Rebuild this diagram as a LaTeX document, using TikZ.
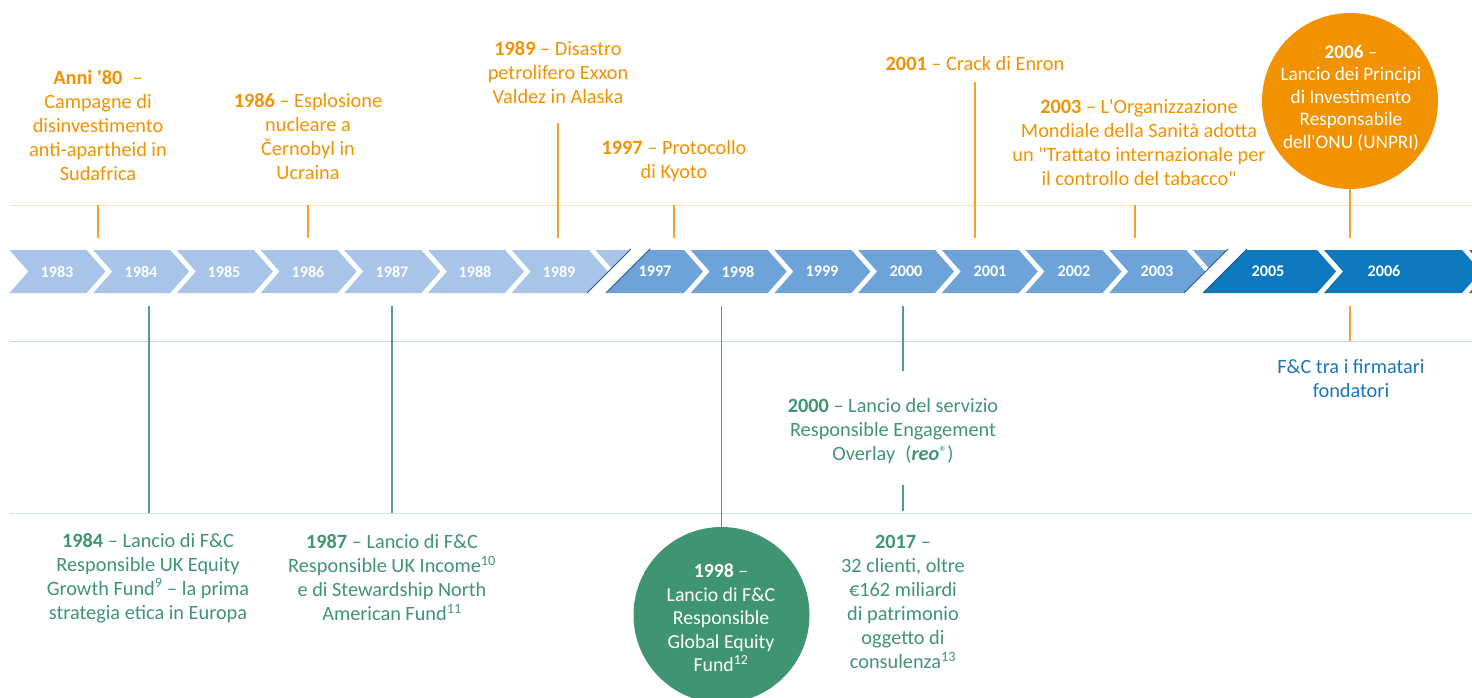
\documentclass[tikz,border=0pt]{standalone}
\usepackage{fontspec}
\newfontfamily\carl{Carlito}
\usetikzlibrary{calc}
\definecolor{chevA}{HTML}{A8C4E8}
\definecolor{chevB}{HTML}{6DA3D8}
\definecolor{chevC}{HTML}{0D78BE}
\definecolor{breakC}{HTML}{1D5A8A}
\definecolor{orangeC}{HTML}{F39200}
\definecolor{orangeL}{HTML}{FBE2C2}
\definecolor{blueT}{HTML}{1A76BC}
\definecolor{blueL}{HTML}{C6D6EE}
\definecolor{greenC}{HTML}{3F9571}
\definecolor{greenL}{HTML}{CFE4DA}
\newcommand{\chevpath}[2]{(#1,250) -- ++(#2,0) -- ++(19,21.5) -- ++(-19,21.5) -- ++(-#2,0) -- ++(19,-21.5) -- cycle}
\newcommand{\regmark}{\raisebox{0.3ex}{\fontsize{16}{16}\selectfont ®}}
\tikzset{
  otext/.style={text=orangeC, font=\carl\fontsize{20.3}{24}\selectfont, align=center, inner sep=0pt},
  gtext/.style={text=greenC, font=\carl\fontsize{20.3}{24}\selectfont, align=center, inner sep=0pt},
  btext/.style={text=blueT, font=\carl\fontsize{20.3}{24}\selectfont, align=center, inner sep=0pt},
  ctext/.style={text=white, font=\carl\fontsize{19.2}{22.5}\selectfont, align=center, inner sep=0pt},
  yr/.style={text=white, font=\carl\bfseries\fontsize{16.2}{18}\selectfont, inner sep=0pt},
  oconn/.style={draw=orangeC!85!white, line width=1.3pt},
  gconn/.style={draw=greenC!90!white, line width=1.3pt},
  guide/.style={line width=1pt},
  brk/.style={draw=breakC, line width=0.9pt},
  bubble/.style={circle, minimum size=#1, inner sep=0pt}
}
\begin{document}
\begin{tikzpicture}[x=1pt, y=-1pt]
\useasboundingbox (0,0) rectangle (1472,697);
% guide lines
\draw[guide, orangeL] (10,205) -- (1472,205);
\draw[guide, blueL] (10,341) -- (1472,341);
\draw[guide, greenL] (10,513) -- (1472,513);
% circles
\node[bubble=176pt, fill=orangeC] (c2006) at (1350,101) {};
\node[bubble=176pt, fill=greenC] (c1998) at (721.5,615) {};
% chevrons left segment
\begin{scope}
\clip (0,240) -- (640,240) -- (580,300) -- (0,300) -- cycle;
\foreach \k in {0,...,7} {
  \pgfmathsetmacro{\xx}{9.5+\k*83.7}
  \fill[chevA] \chevpath{\xx}{77};
}
\end{scope}
\begin{scope}
\clip (659,240) -- (1237,240) -- (1177,300) -- (599,300) -- cycle;
\foreach \k in {-1,...,7} {
  \pgfmathsetmacro{\xx}{607+\k*83.7}
  \fill[chevB] \chevpath{\xx}{77};
}
\end{scope}
\begin{scope}
\clip (1256,240) -- (1480,240) -- (1480,300) -- (1196,300) -- cycle;
\fill[chevC] \chevpath{1190}{127};
\fill[chevC] \chevpath{1324}{138};
\fill[chevC] \chevpath{1469}{138};
\end{scope}
\coordinate (b1a) at (631,249); \coordinate (b1b) at (587,293);
\coordinate (b2a) at (650,249); \coordinate (b2b) at (606,293);
\coordinate (b3a) at (1228,249); \coordinate (b3b) at (1184,293);
\coordinate (b4a) at (1247,249); \coordinate (b4b) at (1203,293);
\draw[brk] (b1a) -- (b1b);
\draw[brk] (b2a) -- (b2b);
\draw[brk] (b3a) -- (b3b);
\draw[brk] (b4a) -- (b4b);
% year labels
\foreach \yname/\yx in {1983/57,1984/141,1985/224,1986/308,1987/392,1988/475,1989/559,1997/655,1998/738,1999/822,2000/906,2001/990,2002/1074,2003/1157,2005/1268,2006/1384}
  \node[yr] (y\yname) at (\yx,271.5) {\yname};
% top texts
\node[otext] (t80) at (98,125) {\textbf{Anni '80}\enspace–\\Campagne di\\disinvestimento\\anti-apartheid in\\Sudafrica};
\node[otext] (t86) at (308,137) {\textbf{1986} – Esplosione\\nucleare a\\Černobyl in\\Ucraina};
\node[otext] (t89) at (558,73) {\textbf{1989} – Disastro\\petrolifero Exxon\\Valdez in Alaska};
\node[otext] (t97) at (674,161) {\textbf{1997} – Protocollo\\di Kyoto};
\node[otext] (t01) at (975,64) {\textbf{2001} – Crack di Enron};
\node[otext] (t03) at (1139,143) {\textbf{2003} – L'Organizzazione\\Mondiale della Sanità adotta\\un "Trattato internazionale per\\il controllo del tabacco"};
\node[ctext] (t06) at (1351,98) {\textbf{2006} –\\Lancio dei Principi\\di Investimento\\Responsabile\\dell'ONU (UNPRI)};
% bottom texts
\node[btext] (tfc) at (1351,379) {F\&C tra i firmatari\\fondatori};
\node[gtext] (t00) at (893,431) {\textbf{2000} – Lancio del servizio\\Responsible Engagement\\Overlay\enspace(\textbf{\textit{reo}}\regmark)};
\node[gtext] (t84) at (148,578) {\textbf{1984} – Lancio di F\&C\\Responsible UK Equity\\Growth Fund\textsuperscript{9} – la prima\\strategia etica in Europa};
\node[gtext] (t87) at (392,578) {\textbf{1987} – Lancio di F\&C\\Responsible UK Income\textsuperscript{10}\\e di Stewardship North\\American Fund\textsuperscript{11}};
\node[ctext, font=\carl\fontsize{19.8}{23.5}\selectfont] (t98) at (721,618) {\textbf{1998} –\\Lancio di F\&C\\Responsible\\Global Equity\\Fund\textsuperscript{12}};
\node[gtext] (t17) at (903,602) {\textbf{2017} –\\32 clienti, oltre\\€162 miliardi\\di patrimonio\\oggetto di\\consulenza\textsuperscript{13}};
% connector coordinates
\coordinate (o80a) at (98,205); \coordinate (o80b) at (98,238);
\coordinate (o86a) at (308,205); \coordinate (o86b) at (308,238);
\coordinate (o89a) at (558,123); \coordinate (o89b) at (558,238);
\coordinate (o97a) at (674,205); \coordinate (o97b) at (674,238);
\coordinate (o01a) at (975,82); \coordinate (o01b) at (975,238);
\coordinate (o03a) at (1135,205); \coordinate (o03b) at (1135,238);
\coordinate (o06b) at (1350,238);
\coordinate (o06c) at (1350,306); \coordinate (o06d) at (1350,341);
\coordinate (g84a) at (149,306); \coordinate (g84b) at (149,513);
\coordinate (g87a) at (392,306); \coordinate (g87b) at (392,513);
\coordinate (g98a) at (721.5,306);
\coordinate (g00a) at (903,306); \coordinate (g00b) at (903,371);
\coordinate (g17a) at (903,485); \coordinate (g17b) at (903,511);
\draw[oconn] (o80a) -- (o80b);
\draw[oconn] (o86a) -- (o86b);
\draw[oconn] (o89a) -- (o89b);
\draw[oconn] (o97a) -- (o97b);
\draw[oconn] (o01a) -- (o01b);
\draw[oconn] (o03a) -- (o03b);
\draw[oconn] (c2006.south) -- (o06b);
\draw[oconn] (o06c) -- (o06d);
\draw[gconn] (g84a) -- (g84b);
\draw[gconn] (g87a) -- (g87b);
\draw[gconn] (g98a) -- (c1998.north);
\draw[gconn] (g00a) -- (g00b);
\draw[gconn] (g17a) -- (g17b);
\end{tikzpicture}
\end{document}
